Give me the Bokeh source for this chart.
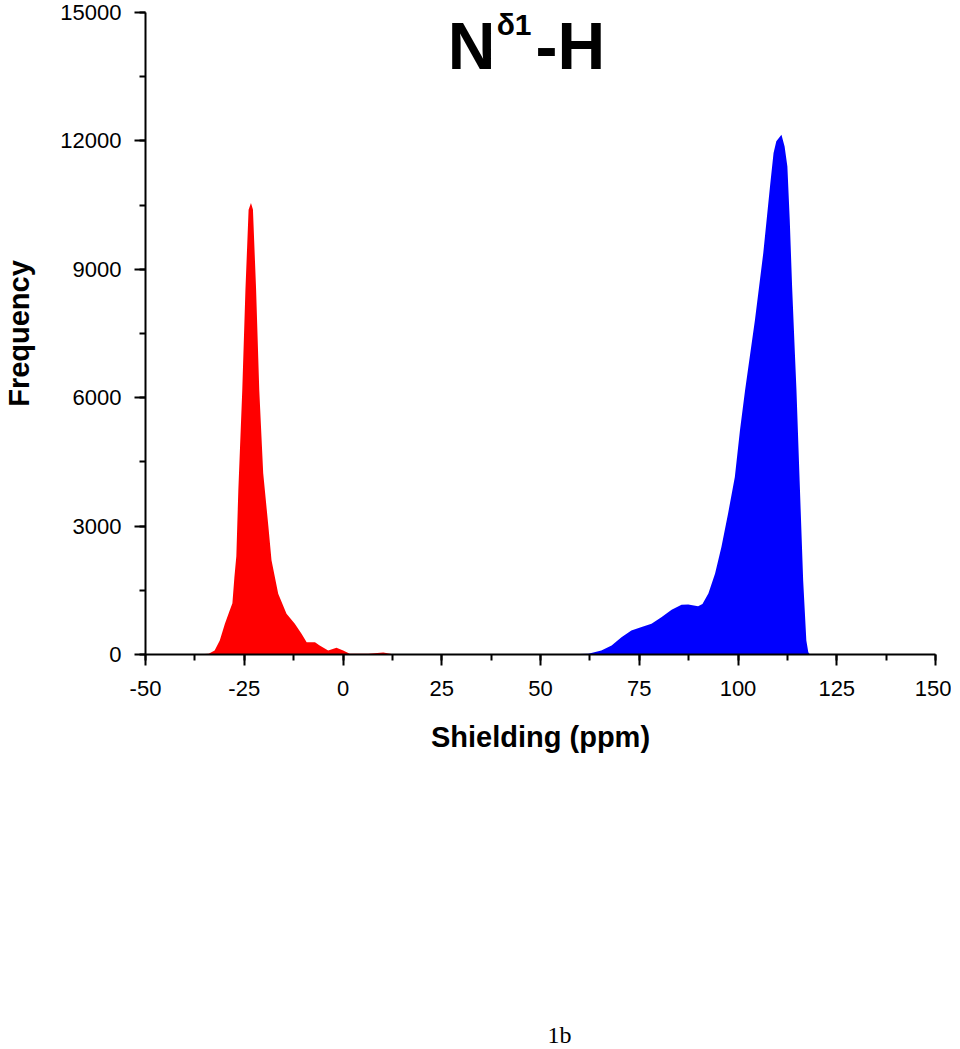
from bokeh.plotting import figure
from bokeh.models import Label, SingleIntervalTicker, Range1d
from bokeh.layouts import column
from bokeh.embed import file_html
from bokeh.resources import INLINE

# ---- data ----
red_ppm = [-40, -36, -34, -32.5, -31.2, -29.9, -28.8, -28.0, -27.5, -27.0, -26.5, -25.5,
           -24.7, -23.9, -23.3, -22.8, -22.0, -21.2, -20.2, -18.9, -18.1, -16.4, -14.3,
           -12.2, -10.5, -9.2, -7.1, -5.9, -3.75, -1.65, 0.05, 1.7, 6.4, 10.2, 12.3, 15]
red_freq = [0, 5, 20, 94, 330, 718, 1000, 1200, 1800, 2300, 3840, 6180,
            8520, 10390, 10550, 10400, 8520, 6180, 4235, 3000, 2200, 1420, 950,
            718, 484, 288, 288, 210, 94, 157, 94, 16, 15, 47, 10, 0]

blue_ppm = [50, 56, 60, 62.1, 65.4, 68.0, 70.5, 73.0, 75.6, 78.1, 80.6, 83.2, 85.7, 87.4,
            89.9, 91.0, 92.5, 94.2, 95.8, 97.5, 99.2, 100.5, 101.8, 104.3, 106.4, 108.1,
            109.0, 109.7, 111.0, 111.8, 112.5, 113.1, 113.7, 114.4, 114.8, 115.6, 116.5,
            117.3, 117.8, 118.2]
blue_freq = [0, 5, 10, 20, 94, 210, 405, 560, 640, 718, 873, 1045, 1163, 1170,
             1130, 1180, 1425, 1895, 2510, 3300, 4150, 5240, 6180, 7820, 9380, 10935,
             11720, 11990, 12145, 11870, 11400, 10155, 8595, 7040, 6180, 4070, 1730,
             330, 50, 0]

x_ticks_interval = 25
y_ticks_interval = 3000
x_negative_labels = {-50: "-50", -25: "-25"}
title_main = "N"
title_sup = "δ1"
title_tail = "-H"
x_label = "Shielding (ppm)"
y_label = "Frequency"
caption = "1b"

FONT = "Liberation Sans"
FRAME_W, FRAME_H = 790, 642

p = figure(frame_width=FRAME_W, frame_height=FRAME_H,
           min_border_left=144, min_border_right=16, min_border_top=12, min_border_bottom=130,
           output_backend="svg", toolbar_location=None,
           x_range=Range1d(-50, 150), y_range=Range1d(0, 15000))
p.outline_line_color = None
p.xgrid.visible = False
p.ygrid.visible = False
p.background_fill_color = "white"
p.border_fill_color = "white"

p.varea(x=red_ppm, y1=0, y2=red_freq, fill_color="#ff0000")
p.varea(x=blue_ppm, y1=0, y2=blue_freq, fill_color="#0000ff")

p.xaxis.ticker = SingleIntervalTicker(interval=x_ticks_interval, num_minor_ticks=2)
p.yaxis.ticker = SingleIntervalTicker(interval=y_ticks_interval, num_minor_ticks=2)
p.xaxis.major_label_overrides = x_negative_labels

for ax in (p.xaxis, p.yaxis):
    ax.axis_line_width = 2
    ax.axis_line_color = "black"
    ax.major_tick_line_width = 2
    ax.minor_tick_line_width = 2
    ax.major_tick_line_color = "black"
    ax.minor_tick_line_color = "black"
    ax.major_tick_in = 0
    ax.major_tick_out = 11
    ax.minor_tick_in = 0
    ax.minor_tick_out = 6
    ax.major_label_text_font = FONT
    ax.major_label_text_font_size = "22px"
    ax.major_label_text_color = "black"
    ax.axis_label_text_font = FONT
    ax.axis_label_text_font_size = "29px"
    ax.axis_label_text_font_style = "bold"
    ax.axis_label_text_color = "black"

p.xaxis.axis_label = x_label
p.yaxis.axis_label = y_label
p.xaxis.major_label_standoff = 15
p.yaxis.major_label_standoff = 13
p.xaxis.axis_label_standoff = 22
p.yaxis.axis_label_standoff = 22

# title pieces, placed inside the frame
p.add_layout(Label(x=26.5, y=14228, text=title_main, text_font=FONT, text_font_style="bold",
                   text_font_size="66px", text_baseline="alphabetic", text_align="left",
                   text_color="black"))
p.add_layout(Label(x=38.9, y=14720, text=title_sup, text_font=FONT, text_font_style="bold",
                   text_font_size="30px", text_baseline="alphabetic", text_align="left",
                   text_color="black"))
p.add_layout(Label(x=48.75, y=14228, text=title_tail, text_font=FONT, text_font_style="bold",
                   text_font_size="66px", text_baseline="alphabetic", text_align="left",
                   text_color="black"))

# caption panel under the chart; its frame lines up with the main frame (pixel-unit ranges)
cap_h = 1049 - (12 + FRAME_H + 130)
c = figure(frame_width=FRAME_W, frame_height=cap_h, min_border=0, output_backend="svg",
           toolbar_location=None, x_axis_location=None, y_axis_location=None,
           x_range=Range1d(0, FRAME_W), y_range=Range1d(0, cap_h))
c.grid.visible = False
c.outline_line_color = None
c.background_fill_color = "white"
c.border_fill_color = "white"
c.add_layout(Label(x=414, y=15, text=caption, text_font="Liberation Serif",
                   text_font_size="24px", text_baseline="alphabetic", text_align="center",
                   text_color="black"))

open("out.html", "w").write(file_html(column(p, c), INLINE))
